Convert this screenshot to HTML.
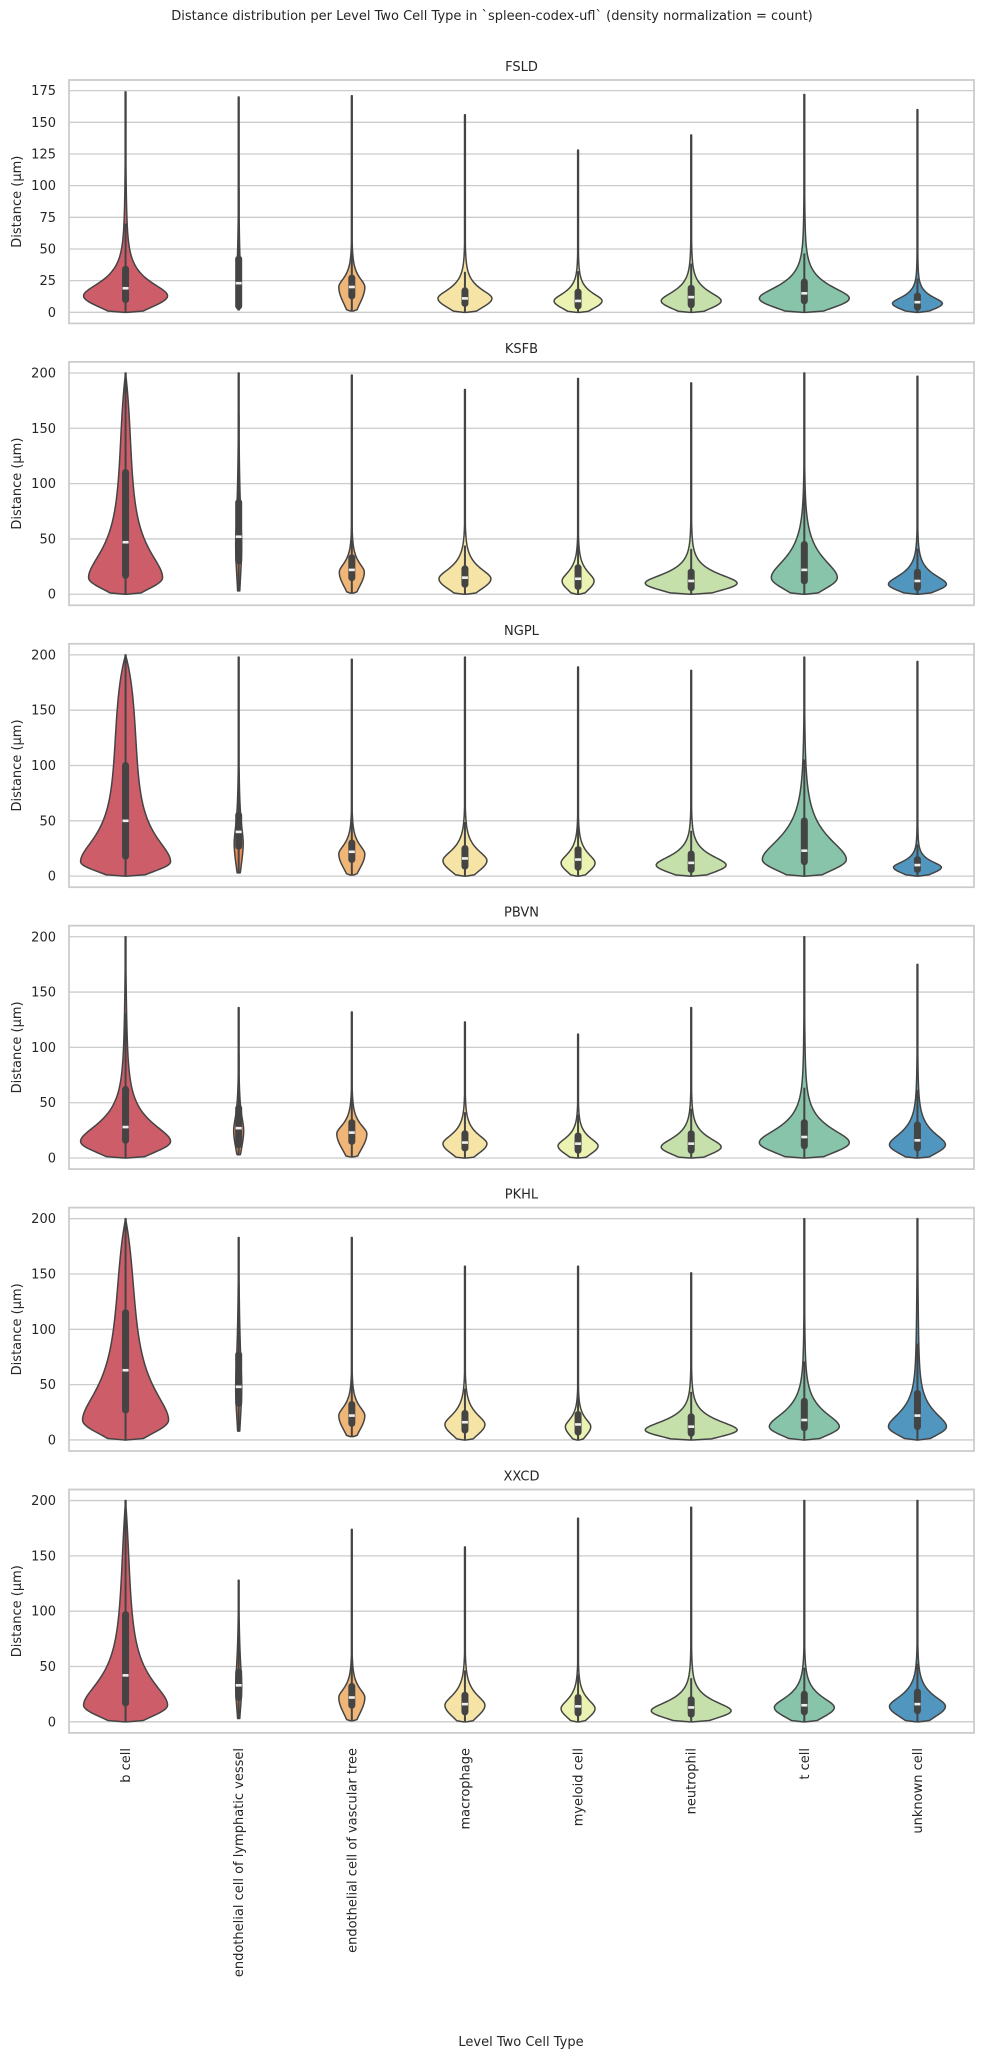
<!DOCTYPE html>
<html><head><meta charset="utf-8"><style>
html,body{margin:0;padding:0;background:#fff;}
svg{display:block;font-family:"DejaVu Sans","Liberation Sans",sans-serif;}
</style></head><body>
<svg id="chart" width="984" height="2060" viewBox="0 0 984 2060" xmlns="http://www.w3.org/2000/svg">
<text x="492" y="20" text-anchor="middle" font-size="13" fill="#262626">Distance distribution per Level Two Cell Type in `spleen-codex-ufl` (density normalization = count)</text>
<text x="521" y="2046" text-anchor="middle" font-size="13" fill="#262626">Level Two Cell Type</text>
<g id="panels"></g>
</svg>
<script>
const panels = ["FSLD","KSFB","NGPL","PBVN","PKHL","XXCD"];
const categories = ["b cell","endothelial cell of lymphatic vessel","endothelial cell of vascular tree","macrophage","myeloid cell","neutrophil","t cell","unknown cell"];
const colors = ["#cd5d69","#e98a58","#f0b677","#f6e4a6","#ecf2b2","#c5e0ab","#88c4aa","#5196bf"];
// per panel, per category
const halfWidth = [
 [42,2,13,27,24,30,45,25],
 [37,3,12.5,26,16,46,33,29],
 [45,4.5,13,22,17,35,42,24],
 [45,5,15,22,20,30,45,28],
 [43,3,13,20,12.7,46,35,29],
 [42,3,13,20,17,40,30,28]];
const modes = [
 [13,23,20,11,9,9,11,7],
 [15,45,20,14,12,10,15,9],
 [13,30,20,14,12,10,15,8],
 [15,25,22,13,11,10,14,12],
 [18,48,22,14,12,9,12,12],
 [15,33,22,15,12,10,13,14]];
const upperSpread = [
 [10,20,7,7,6,7,9,5],
 [22,30,8,9,8,8,16,8],
 [20,15,8,9,8,8,18,5],
 [15,12,8,8,7,8,12,10],
 [25,30,8,9,7,8,12,12],
 [20,20,8,9,8,8,9,9]];
const tailFrac = [
 [0.12,0.5,0.05,0.04,0.04,0.05,0.06,0.05],
 [0.3,0.5,0.05,0.03,0.05,0.04,0.06,0.05],
 [0.35,0.4,0.05,0.04,0.05,0.04,0.12,0.05],
 [0.15,0.3,0.05,0.04,0.04,0.05,0.08,0.1],
 [0.4,0.5,0.05,0.04,0.05,0.04,0.08,0.12],
 [0.3,0.5,0.05,0.04,0.04,0.05,0.05,0.06]];
const tailDecay = [
 [40,40,30,30,30,30,40,30],
 [150,60,30,30,30,30,50,30],
 [250,40,30,30,30,30,50,30],
 [60,30,30,30,30,30,50,40],
 [150,60,30,30,30,30,50,70],
 [100,40,30,30,30,30,30,30]];
const mins = [
 [0,2,1,0,0,0,0,0],
 [0,3,1,0,0,0,0,0],
 [0,3,1,0,0,0,0,0],
 [0,3,1,0,0,0,0,0],
 [0,8,3,0,0,0,0,0],
 [0,3,1,0,0,0,0,0]];
const maxs = [
 [174,170,171,156,128,140,172,160],
 [200,200,198,185,195,191,200,197],
 [200,198,196,198,189,186,198,194],
 [200,136,132,123,112,136,200,175],
 [200,183,183,157,157,151,200,200],
 [200,128,174,158,184,194,200,200]];
const q1s = [
 [10,5,13,7,5,6,9,4],
 [17,30,15,9,7,6,12,6],
 [18,27,15,9,8,6,13,6],
 [16,12,15,9,7,7,11,9],
 [27,33,15,9,7,6,11,12],
 [17,22,15,9,8,7,9,10]];
const medians = [
 [19,23,20,11,9,12,15,8],
 [47,52,22,15,14,12,22,12],
 [50,40,22,16,15,12,23,10],
 [28,27,23,14,13,13,19,16],
 [63,48,22,16,14,12,18,22],
 [42,33,22,16,14,13,15,16]];
const q3s = [
 [34,42,27,17,16,19,24,13],
 [110,83,33,23,24,20,45,20],
 [100,55,30,25,24,20,50,15],
 [62,45,32,22,20,22,32,30],
 [115,77,32,24,23,21,35,42],
 [97,45,32,24,22,20,25,27]];
const yTicks0 = [0,25,50,75,100,125,150,175];
const yTicks = [0,50,100,150,200];

const NS = "http://www.w3.org/2000/svg";
const root = document.getElementById("panels");
const L = 69, R = 974, PH = 243.4, PITCH = 281.9, T0 = 80;
const bandW = (R - L) / categories.length;
function xCenter(i){ return L + bandW * (i + 0.5); }
function mk(tag, attrs, parent){ const e = document.createElementNS(NS, tag); for (const k in attrs) e.setAttribute(k, attrs[k]); parent.appendChild(e); return e; }

panels.forEach((pname, p) => {
  const top = T0 + p * PITCH, bot = top + PH;
  const dom = p === 0 ? [-8.74, 183.4] : [-10, 210];
  const yS = v => bot - (v - dom[0]) / (dom[1] - dom[0]) * PH;
  const g = mk("g", {}, root);
  
  
  const ticks = p === 0 ? yTicks0 : yTicks;
  ticks.forEach(t => {
    const gl = mk("line", {x1:L, x2:R, y1:yS(t), y2:yS(t), stroke:"#cccccc", "stroke-width":1.3}, g);
    
    
    const tl = mk("text", {x:56, y:yS(t)+4.5, "text-anchor":"end", "font-size":13, fill:"#262626"}, g);
    
    
    tl.textContent = t;
  });
  const tt = mk("text", {x:(L+R)/2, y:top-9, "text-anchor":"middle", "font-size":13, fill:"#262626"}, g);
  
  
  tt.textContent = pname;
  const yl = mk("text", {x:0, y:0, "text-anchor":"middle", "font-size":13, fill:"#262626", transform:`translate(21,${(top+bot)/2}) rotate(-90)`}, g);
  
  
  yl.textContent = "Distance (µm)";

  categories.forEach((c, i) => {
    const cx = xCenter(i);
    const hw = halfWidth[p][i], m = modes[p][i], sh = upperSpread[p][i], tf = tailFrac[p][i], td = tailDecay[p][i];
    const mn = mins[p][i], mx = maxs[p][i], q1 = q1s[p][i], md = medians[p][i], q3 = q3s[p][i];
    const sl = Math.max(2.5, (m - mn) * 0.7);
    const a = sh * 0.8;
    const wf = v => {
      let w;
      if (v <= m) w = hw * Math.exp(-0.5 * Math.pow((v - m) / sl, 2));
      else {
        const u = v - m;
        const core = Math.exp(-(Math.sqrt(1 + (u / a) * (u / a)) - 1) * a / sh);
        const tail = Math.exp(-(Math.sqrt(1 + (u / 4) * (u / 4)) - 1) * 4 / td);
        w = hw * ((1 - tf) * core + tf * tail);
        const r = (v - mn) / (mx - mn);
        w *= (1 - Math.pow(r, 8));
      }
      return Math.max(w, 0.4);
    };
    const N = 160, right = [], left = [];
    for (let k = 0; k <= N; k++) {
      const v = mn + (mx - mn) * k / N;
      let w = wf(v);
      if (k === 0 || k === N) w = Math.min(w, 1.5);
      right.push(`${(cx + w).toFixed(2)},${yS(v).toFixed(2)}`);
      left.unshift(`${(cx - w).toFixed(2)},${yS(v).toFixed(2)}`);
    }
    const vp = mk("path", {d:"M" + right.join("L") + "L" + left.join("L") + "Z", fill:colors[i], stroke:"#444444", "stroke-width":1.5, "stroke-linejoin":"round"}, g);
    
    
    const iqr = q3 - q1, wTop = Math.min(mx, q3 + 1.5 * iqr), wBot = Math.max(mn, q1 - 1.5 * iqr);
    const wh = mk("line", {x1:cx, x2:cx, y1:yS(wBot), y2:yS(wTop), stroke:"#444444", "stroke-width":2}, g);
    
    
    const bx = mk("line", {x1:cx, x2:cx, y1:yS(q1), y2:yS(q3), stroke:"#444444", "stroke-width":7, "stroke-linecap":"round"}, g);
    
    
    const me = mk("rect", {x:cx-3, y:yS(md)-1.3, width:6, height:2.6, fill:"#eeeeee"}, g);
    
    
    if (p === panels.length - 1) {
      const xl = mk("text", {x:0, y:0, "text-anchor":"end", "font-size":13, fill:"#262626", transform:`translate(${cx+4.5},1748) rotate(-90)`}, g);
      
      
      xl.textContent = c;
    }
  });
  const fr = mk("rect", {x:L, y:top, width:R-L, height:PH, fill:"none", stroke:"#cccccc", "stroke-width":1.8}, g);
  
  
});
</script>
</body></html>
